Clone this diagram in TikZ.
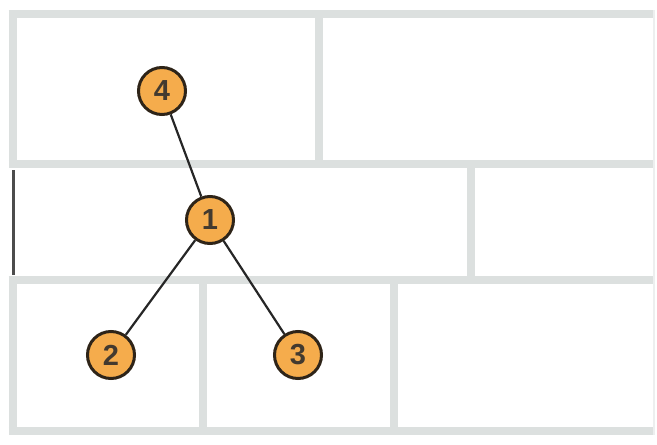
\documentclass[tikz,border=0pt]{standalone}
\usepackage{fontspec}
\setmainfont{Liberation Sans}
\definecolor{wallgray}{HTML}{DCE0DF}
\definecolor{nodefill}{HTML}{F5AC4C}
\definecolor{nodeline}{HTML}{2E2418}
\begin{document}
\begin{tikzpicture}[x=1pt,y=-1pt,
		wall/.style={wallgray,line width=8.5pt},
		vertex/.style={circle,draw=nodeline,line width=3pt,fill=nodefill,minimum size=47pt,inner sep=0pt,font=\fontsize{29}{29}\selectfont\bfseries,text=nodeline!90},
		edge/.style={black!85,line width=2.2pt}]
		\useasboundingbox (0,0) rectangle (657,445);

        \draw[wall] (8.5,14) -- (655,14);
        \draw[wall] (8.5,164) -- (655,164);
        \draw[wall] (8.5,280) -- (655,280);
        \draw[wall] (8.5,431) -- (655,431);

        \draw[wall] (13,14) -- (13,164);
        \draw[wall] (13,280) -- (13,431);
        \draw[black!70,line width=3pt] (13,170) -- (13,275);
        \draw[wallgray!50,line width=2pt] (654,10) -- (654,435);

        \draw[wall] (319,14) -- (319,164);
        \draw[wall] (471,164) -- (471,280);
        \draw[wall] (203,280) -- (203,431);
        \draw[wall] (394,280) -- (394,431);

        \node[vertex] (n4) at (162,91) {4};
        \node[vertex] (n1) at (210,220) {1};
        \node[vertex] (n2) at (111,355) {2};
        \node[vertex] (n3) at (298,355) {3};

        \draw[edge] (n4) -- (n1);
        \draw[edge] (n1) -- (n2);
        \draw[edge] (n1) -- (n3);
    \end{tikzpicture}
\end{document}
